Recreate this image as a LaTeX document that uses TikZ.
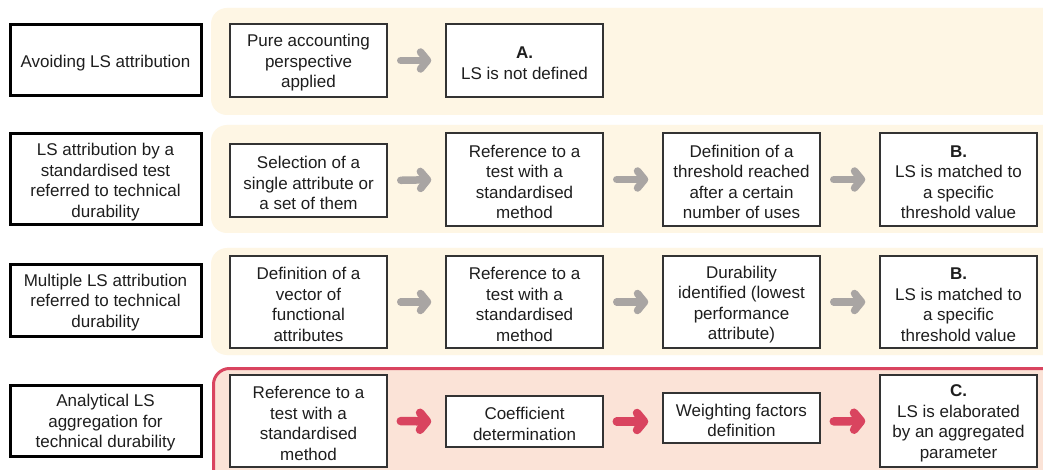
\documentclass[tikz,border=0pt]{standalone}
\usepackage{fontspec}
\setmainfont{Liberation Sans}
\usetikzlibrary{arrows.meta}
\definecolor{panelY}{HTML}{FEF6E4}
\definecolor{panelR}{HTML}{FBE3D7}
\definecolor{redline}{HTML}{D9445F}
\definecolor{grayarrow}{HTML}{A9A5A3}
\definecolor{boxline}{HTML}{333333}
\definecolor{txt}{HTML}{1E1E1E}
\tikzset{
  leftbox/.style={rectangle, fill=white, draw=black, line width=3},
  flowbox/.style={rectangle, fill=white, draw=boxline, line width=1.5},
  boxtext/.style={align=center, inner sep=0pt, text=txt,
    font=\fontsize{17}{20.5}\selectfont},
  grayflow/.style={draw=grayarrow, line width=7.5, line cap=round,
    -{Straight Barb[length=7pt, width=17pt, round]}, shorten <=13, shorten >=14},
  redflow/.style={grayflow, draw=redline, line width=8.5},
}
% box with corners given in pixel coordinates, text set slightly below centre
\newcommand\pxbox[7]{% style, name, x1, y1, x2, y2, text
  \node[#1, minimum width={#5-#3}, minimum height={#6-#4}]
    (#2) at ({(#3+#5)/2},{(#4+#6)/2}) {};
  \node[boxtext] (#2-t) at ([yshift=-2.5pt]#2.center) {#7};}
\begin{document}
\begin{tikzpicture}[x=1pt,y=-1pt]
\useasboundingbox (0,0) rectangle (1043,470);
\clip (0,0) rectangle (1043,470);
\fill[white] (0,0) rectangle (1043,470);
% panels
\fill[panelY, rounded corners=16] (211,8) rectangle (1070,115);
\fill[panelY, rounded corners=16] (211,125) rectangle (1070,233);
\fill[panelY, rounded corners=16] (211,248) rectangle (1070,355);
\draw[fill=panelR, draw=redline, line width=3, rounded corners=16] (213.5,368.5) rectangle (1070,490);
% left boxes
\pxbox{leftbox}{L1}{10}{25}{201}{96}{Avoiding LS attribution}
\pxbox{leftbox}{L2}{10}{134}{201}{225}{LS attribution by a\\standardised test\\referred to technical\\durability}
\pxbox{leftbox}{L3}{10}{264}{201}{336}{Multiple LS attribution\\referred to technical\\durability}
\pxbox{leftbox}{L4}{10}{385}{201}{456}{Analytical LS\\aggregation for\\technical durability}
% row 1
\pxbox{flowbox}{a1}{230}{24}{387}{97}{Pure accounting\\perspective\\applied}
\pxbox{flowbox}{a2}{446}{24}{603}{97}{\textbf{A.}\\LS is not defined}
% row 2
\pxbox{flowbox}{b1}{230}{144}{387}{217}{Selection of a\\single attribute or\\a set of them}
\pxbox{flowbox}{b2}{446}{133}{603}{226}{Reference to a\\test with a\\standardised\\method}
\pxbox{flowbox}{b3}{663}{133}{820}{226}{Definition of a\\threshold reached\\after a certain\\number of uses}
\pxbox{flowbox}{b4}{880}{133}{1037}{226}{\textbf{B.}\\LS is matched to\\a specific\\threshold value}
% row 3
\pxbox{flowbox}{c1}{230}{256}{387}{348}{Definition of a\\vector of\\functional\\attributes}
\pxbox{flowbox}{c2}{446}{256}{603}{348}{Reference to a\\test with a\\standardised\\method}
\pxbox{flowbox}{c3}{663}{256}{820}{348}{Durability\\identified (lowest\\performance\\attribute)}
\pxbox{flowbox}{c4}{880}{256}{1037}{348}{\textbf{B.}\\LS is matched to\\a specific\\threshold value}
% row 4
\pxbox{flowbox}{d1}{230}{375}{387}{467}{Reference to a\\test with a\\standardised\\method}
\pxbox{flowbox}{d2}{446}{396}{603}{447}{Coefficient\\determination}
\pxbox{flowbox}{d3}{663}{393}{820}{443}{Weighting factors\\definition}
\pxbox{flowbox}{d4}{880}{375}{1037}{467}{\textbf{C.}\\LS is elaborated\\by an aggregated\\parameter}
% arrows
\draw[grayflow] (a1.east) -- (a2.west);
\draw[grayflow] (b1.east) -- (b2.west);
\draw[grayflow] (b2.east) -- (b3.west);
\draw[grayflow] (b3.east) -- (b4.west);
\draw[grayflow] (c1.east) -- (c2.west);
\draw[grayflow] (c2.east) -- (c3.west);
\draw[grayflow] (c3.east) -- (c4.west);
\draw[redflow] (d1.east) -- (d2.west);
\draw[redflow] (d2.east) -- (d3.west |- d2.east);
\draw[redflow] (d3.east |- d2.east) -- (d4.west);
\end{tikzpicture}
\end{document}
